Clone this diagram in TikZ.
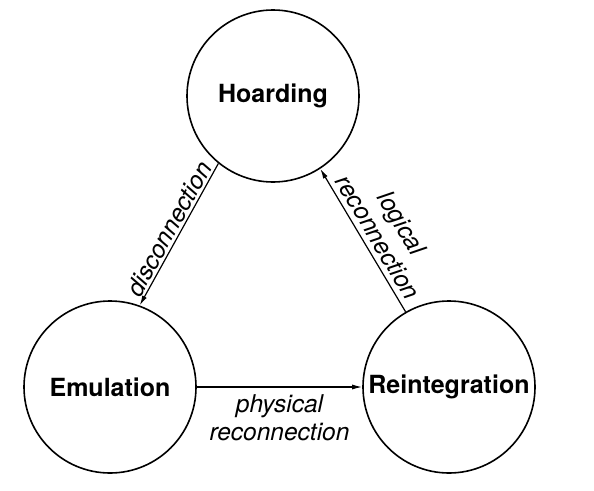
\documentclass[tikz,border=0pt]{standalone}
\usepackage{fontspec}
\setmainfont{TeX Gyre Heros}
\usetikzlibrary{arrows.meta}
\begin{document}
\begin{tikzpicture}[x=1pt,y=1pt,
  state/.style={draw, line width=1.6pt, circle, minimum size=172pt, inner sep=0pt,
    font=\fontsize{25}{30}\selectfont\bfseries},
  flow/.style={line width=1.2pt, -{Latex[length=10pt,width=5pt]}},
  lbl/.style={font=\fontsize{24.5}{28}\selectfont\itshape, align=center, inner sep=2pt}]
\useasboundingbox (0,0) rectangle (594,-490);
\node[state] (ho) at (273,-96) {Hoarding};
\node[state] (em) at (110,-387) {Emulation};
\node[state] (re) at (449,-387) {Reintegration};
\draw[flow] (ho.231) -- node[lbl, sloped, above] {disconnection} (em.70);
\draw[flow] (re.120) -- node[lbl, sloped, above=3pt, pos=0.47] {logical\\reconnection} (ho.303);
\draw[flow] (em.east) -- node[lbl, below=5pt] {physical\\reconnection} (re.west);
\end{tikzpicture}
\end{document}
